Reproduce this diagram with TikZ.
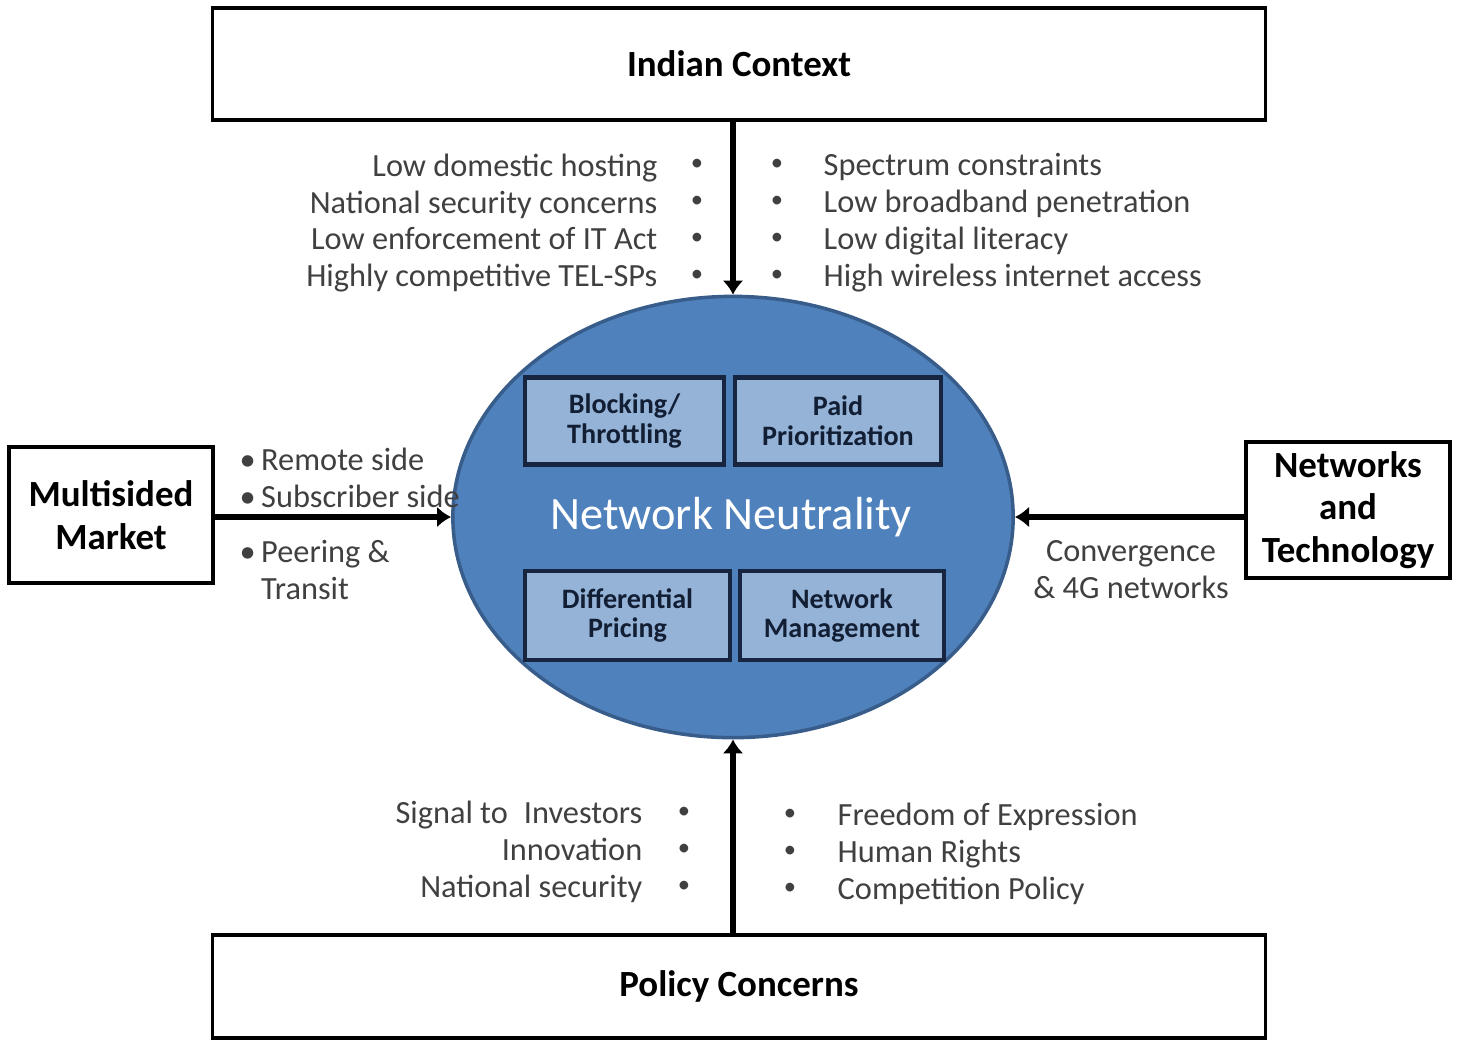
\documentclass[tikz,border=0pt]{standalone}
\usepackage{fontspec}
\setmainfont{Carlito}
\usetikzlibrary{arrows.meta,shapes.geometric}

\definecolor{nnblue}{RGB}{79,129,189}
\definecolor{nnedge}{RGB}{56,93,138}
\definecolor{subblue}{RGB}{149,179,215}
\definecolor{subedge}{RGB}{23,37,64}
\definecolor{txtgray}{RGB}{64,64,64}

\tikzset{
  outerbox/.style={draw=black,line width=1pt,fill=white,inner sep=0pt,
    font=\fontsize{10.5}{12.1}\selectfont\bfseries,align=center},
  subbox/.style={draw=subedge,line width=1.2pt,fill=subblue,inner sep=0pt,
    minimum height=0.87cm,text=subedge!80!black,
    font=\fontsize{8}{8.5}\selectfont\bfseries,align=center},
  itemtext/.style={inner sep=0pt,text=txtgray,font=\fontsize{9.2}{10.5}\selectfont},
  dots/.style={itemtext,align=center,font=\fontsize{7}{10.5}\selectfont},
  flow/.style={line width=1.7pt,-{Latex[length=4pt,width=6pt]}}
}

\begin{document}
\begin{tikzpicture}[x=0.01cm,y=-0.01cm]
    \useasboundingbox (0,0) rectangle (1461,1041);

    % central ellipse
    \node[ellipse,draw=nnedge,line width=1pt,fill=nnblue,minimum width=5.6cm,
          minimum height=4.41cm,inner sep=0pt] (nn) at (733,517) {};
    \node[inner sep=0pt,text=white,font=\fontsize{13.2}{14}\selectfont] (nntitle) at (731,517) {Network Neutrality};

    % the four issues
    \node[subbox,minimum width=1.99cm] (blk)  at (624.5,421) {Blocking/\\Throttling};
    \node[subbox,minimum width=2.06cm] (paid) at (838,421)   {Paid\\Prioritization};
    \node[subbox,minimum width=2.05cm,minimum height=0.89cm] (diff) at (627.5,615.5) {Differential\\Pricing};
    \node[subbox,minimum width=2.04cm,minimum height=0.89cm] (mgmt) at (842,615.5)   {Network\\Management};

    % surrounding boxes
    \node[outerbox,minimum width=10.52cm,minimum height=1.12cm] (ctx)  at (739,64)   {Indian Context};
    \node[outerbox,minimum width=10.52cm,minimum height=1.03cm] (pol)  at (739,986.5) {Policy Concerns};
    \node[outerbox,minimum width=2.04cm,minimum height=1.36cm]  (mkt)  at (111,515)  {Multisided\\Market};
    \node[outerbox,minimum width=2.04cm,minimum height=1.36cm]  (tech) at (1348,510) {Networks\\and\\Technology};

    % connectors
    \draw[flow] (ctx.south -| nn.north) -- (nn.north);
    \draw[flow] (pol.north -| nn.south) -- (nn.south);
    \draw[flow] (mkt.east |- nn.west) -- (nn.west);
    \draw[flow] (tech.west |- nn.east) -- (nn.east);

    % Indian context
    \node[itemtext,anchor=east,align=right] (ctxL) at (658,223)
        {Low domestic hosting\\National security concerns\\Low enforcement of IT Act\\Highly competitive TEL-SPs};
    \node[dots] (ctxLb) at (697,220) {\textbullet\\\textbullet\\\textbullet\\\textbullet};
    \node[dots] (ctxRb) at (777,220) {\textbullet\\\textbullet\\\textbullet\\\textbullet};
    \node[itemtext,anchor=west,align=left] (ctxR) at (823,223)
        {Spectrum constraints\\Low broadband penetration\\Low digital literacy\\High wireless internet access};

    % policy concerns
    \node[itemtext,anchor=east,align=right] (polL) at (643,852)
        {Signal to\enspace Investors\\Innovation\\National security};
    \node[dots] (polLb) at (684,850) {\textbullet\\\textbullet\\\textbullet};
    \node[dots] (polRb) at (790,852) {\textbullet\\\textbullet\\\textbullet};
    \node[itemtext,anchor=west,align=left] (polR) at (837,854)
        {Freedom of Expression\\Human Rights\\Competition Policy};

    % multisided market
    \node[itemtext,anchor=west,align=left] (mktA) at (239,478)
        {\textbullet\,Remote side\\\textbullet\,Subscriber side};
    \node[itemtext,anchor=west,align=left] (mktB) at (239,570)
        {\textbullet\,Peering \&\\\phantom{\textbullet\,}Transit};

    % networks and technology
    \node[itemtext,align=center] (conv) at (1131,570) {Convergence\\\& 4G networks};
\end{tikzpicture}
\end{document}
